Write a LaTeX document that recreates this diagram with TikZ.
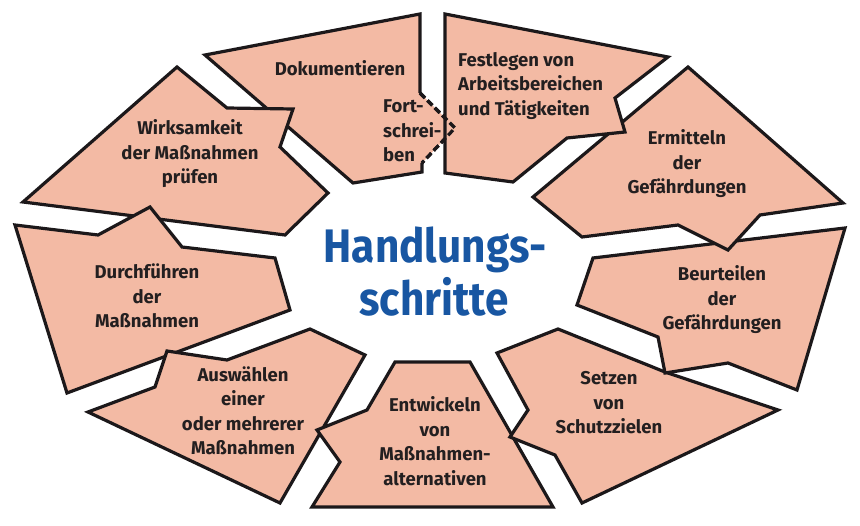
\documentclass[tikz,border=0pt]{standalone}
\usepackage{fontspec}
\setmainfont{Fira Sans}
\newfontfamily\titlefont{Fira Sans}[FakeStretch=0.9]
\definecolor{salmon}{RGB}{243,186,164}
\definecolor{outline}{RGB}{28,24,26}
\definecolor{txt}{RGB}{35,31,32}
\definecolor{titleblue}{RGB}{24,86,162}
\begin{document}
\begin{tikzpicture}[x=1pt,y=-1pt,
  seg/.style={fill=salmon, draw=outline, line width=3.2pt, line join=miter},
  segfill/.style={fill=salmon},
  segline/.style={draw=outline, line width=3.2pt, line join=miter},
  dashline/.style={draw=outline, line width=3.2pt, dash pattern=on 7pt off 3.5pt},
  lbl/.style={font=\fontsize{18.5}{24.5}\selectfont\bfseries, text=txt, align=center, inner sep=0pt},
  lbll/.style={font=\fontsize{18.5}{24.5}\selectfont\bfseries, text=txt, align=left, inner sep=0pt, anchor=west},
  ttl/.style={font=\fontsize{47}{50}\titlefont\bfseries, text=titleblue, inner sep=0pt, anchor=base}]
\useasboundingbox (0,0) rectangle (860,526);

% Dokumentieren
\path[segfill] (205,55)--(420,14)--(420,93)--(455,128)--(422,163)--(422,172)--(353,183)--cycle;
\path[segline] (420,93)--(420,14)--(205,55)--(353,183)--(422,172)--(422,163);
\path[dashline] (420,93)--(455,128)--(422,163);
% Wirksamkeit
\path[seg] (177,67)--(227,108)--(293,109)--(280,147)--(328,193)--(285,235)--(23,202)--cycle;
% Durchfuehren
\path[seg] (15,225)--(98,235)--(150,207)--(182,247)--(275,258)--(290,310)--(67,393)--cycle;
% Auswaehlen
\path[seg] (167,351)--(227,360)--(310,329)--(365,355)--(280,503)--(88,412)--(155,387)--cycle;
% Entwickeln
\path[seg] (395,362)--(470,362)--(553,507)--(312,507)--(340,462)--(317,430)--(367,410)--cycle;
% Setzen
\path[seg] (497,353)--(558,329)--(665,372)--(778,410)--(582,503)--(555,455)--(510,437)--(528,410)--cycle;
% Beurteilen
\path[seg] (593,258)--(845,228)--(797,390)--(728,363)--(665,373)--(658,337)--(577,305)--cycle;
% Ermitteln
\path[seg] (688,67)--(843,203)--(760,215)--(728,250)--(678,225)--(582,237)--(533,197)--cycle;
% Festlegen
\path[seg] (445,14)--(668,57)--(615,98)--(625,132)--(567,138)--(513,182)--(445,173)--cycle;
% dashed arrow tip on top
\path[dashline] (420,93)--(455,128)--(422,163);

\node[lbl] (dok) at (340,68) {Dokumentieren};
\node[lbll] (fort) at (383,131) {Fort-\\schrei-\\ben};
\node[lbll] (fest) at (458,86) {Festlegen von\\Arbeitsbereichen\\und Tätigkeiten};
\node[lbl] (erm) at (687,164) {Ermitteln\\der\\Gefährdungen};
\node[lbl] (beu) at (722,300) {Beurteilen\\der\\Gefährdungen};
\node[lbl] (set) at (609,403) {Setzen\\von\\Schutzzielen};
\node[lbl] (ent) at (435,441) {Entwickeln\\von\\Maßnahmen-\\alternativen};
\node[lbl] (aus) at (243,411) {Auswählen\\einer\\oder mehrerer\\Maßnahmen};
\node[lbl] (dur) at (147,296) {Durchführen\\der\\Maßnahmen};
\node[lbl] (wir) at (190,154) {Wirksamkeit\\der Maßnahmen\\prüfen};
\node[ttl] (t1) at (435,263) {Handlungs-};
\node[ttl] (t2) at (434,316) {schritte};
\end{tikzpicture}
\end{document}
